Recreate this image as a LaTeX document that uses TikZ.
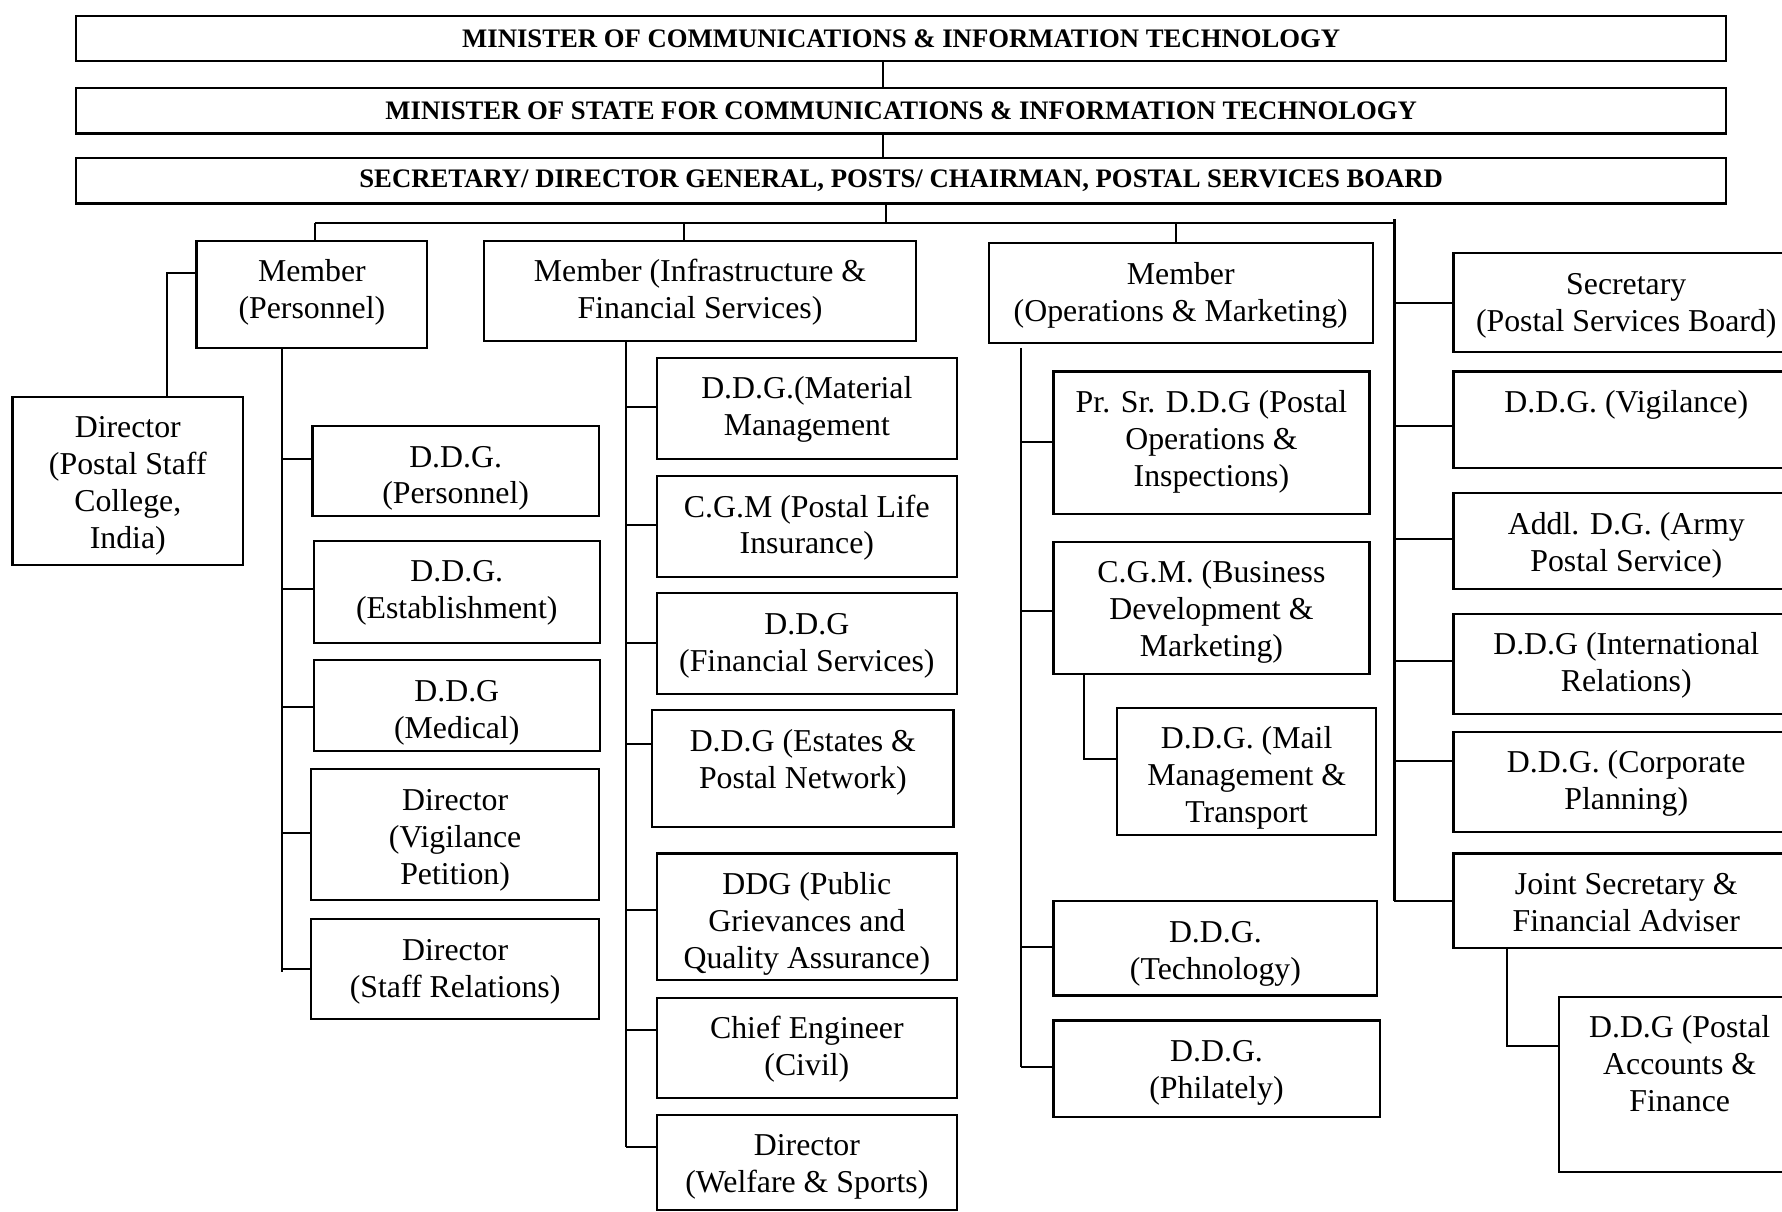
\documentclass[tikz,border=0pt]{standalone}
\usepackage{fontspec}
\setmainfont{Liberation Serif}
\tikzset{
  obx/.style={draw, line width=0.95pt, inner sep=0pt, font=\fontsize{14}{16.25}\selectfont},
  tbx/.style={draw, line width=0.95pt, inner sep=0pt, minimum width=726pt, minimum height=20pt,
              font=\fontsize{11.75}{14}\selectfont\bfseries},
  conn/.style={line width=0.9pt},
}
\newcommand\obox[6]{%
  \node[obx, anchor=north west] (#1) at (#2,#3)
    {\parbox[c][\dimexpr(#5pt-#3pt)/2\relax][t]{\dimexpr(#4pt-#2pt)/2\relax}{\centering\rule{0pt}{18pt}#6\par}};}
\newcommand\brn[3]{\coordinate (#1) at (#2); \draw[conn] (#1) -- (#3.west |- #1);}
\begin{document}
\begin{tikzpicture}[x=0.5pt,y=-0.5pt]
\useasboundingbox (0,0) rectangle (1568,1066);
% top boxes
\node[tbx] (t1) at (793,34) {MINISTER OF COMMUNICATIONS \& INFORMATION TECHNOLOGY};
\node[tbx] (t2) at (793,97.5) {MINISTER OF STATE FOR COMMUNICATIONS \& INFORMATION TECHNOLOGY};
\node[tbx] (t3) at (793,159) {SECRETARY/ DIRECTOR GENERAL, POSTS/ CHAIRMAN, POSTAL SERVICES BOARD};
\coordinate (cx) at (777,0);
\draw[conn] (t1.south -| cx) -- (t2.north -| cx);
\draw[conn] (t2.south -| cx) -- (t3.north -| cx);
\coordinate (bx) at (780,196);
\draw[conn] (t3.south -| bx) -- (bx);
\coordinate (bA) at (277,196); \coordinate (bB) at (602,196);
\coordinate (bC) at (1035,196); \coordinate (bD) at (1227,196);
\draw[conn, line width=1.1pt] (bA) -- (bD);
% members
\obox{mp}{172}{211}{375}{305}{Member\\(Personnel)}
\obox{mi}{425}{211}{805}{299}{Member (Infrastructure \&\\Financial Services)}
\obox{mo}{869}{213}{1207}{301}{Member\\(Operations \& Marketing)}
\draw[conn] (bA) -- (mp.north -| bA);
\draw[conn] (bB) -- (mi.north -| bB);
\draw[conn] (bC) -- (mo.north -| bC);
% left column
\obox{dpsc}{10}{348}{213}{496}{Director\\(Postal Staff\\College,\\India)}
\coordinate (pc) at (147,240);
\draw[conn] (mp.west |- pc) -- (pc) -- (dpsc.north -| pc);
\obox{dp}{274}{374}{526}{453}{D.D.G.\\(Personnel)}
\obox{de}{275}{475}{527}{565}{D.D.G.\\(Establishment)}
\obox{dm}{275}{580}{527}{660}{D.D.G\\(Medical)}
\obox{dv}{273}{676}{526}{791}{Director\\(Vigilance\\Petition)}
\obox{ds}{273}{808}{526}{896}{Director\\(Staff Relations)}
\coordinate (Ls) at (248,855);
\draw[conn] (mp.south -| Ls) -- (Ls);
\brn{L1}{248,404}{dp}
\brn{L2}{248,518}{de}
\brn{L3}{248,622}{dm}
\brn{L4}{248,733}{dv}
\brn{L5}{248,853}{ds}
% middle column
\obox{mm}{577}{314}{841}{403}{D.D.G.(Material\\Management}
\obox{cp}{577}{418}{841}{507}{C.G.M (Postal Life\\Insurance)}
\obox{fs}{577}{521}{841}{610}{D.D.G\\(Financial Services)}
\obox{es}{573}{624}{838}{727}{D.D.G (Estates \&\\Postal Network)}
\obox{pg}{577}{750}{841}{861}{DDG (Public\\Grievances and\\Quality Assurance)}
\obox{ce}{577}{877}{841}{965}{Chief Engineer\\(Civil)}
\obox{dw}{577}{980}{841}{1064}{Director\\(Welfare \& Sports)}
\coordinate (Ms) at (551,1009);
\draw[conn] (mi.south -| Ms) -- (Ms);
\brn{M1}{551,358}{mm}
\brn{M2}{551,462}{cp}
\brn{M3}{551,566}{fs}
\brn{M4}{551,655}{es}
\brn{M5}{551,801}{pg}
\brn{M6}{551,906}{ce}
\brn{M7}{551,1009}{dw}
% operations column
\obox{ps}{926}{326}{1204}{451}{Pr. Sr. D.D.G (Postal\\Operations \&\\Inspections)}
\obox{cg}{926}{476}{1204}{592}{C.G.M. (Business\\Development \&\\Marketing)}
\obox{ml}{982}{622}{1210}{734}{D.D.G. (Mail\\Management \&\\Transport}
\obox{te}{926}{792}{1211}{875}{D.D.G.\\(Technology)}
\obox{ph}{926}{897}{1213}{982}{D.D.G.\\(Philately)}
\coordinate (Ot) at (898,306); \coordinate (Ob) at (898,939);
\draw[conn] (Ot) -- (Ob);
\brn{O1}{898,389}{ps}
\brn{O2}{898,538}{cg}
\brn{O3}{898,833}{te}
\brn{O4}{898,939}{ph}
\coordinate (oc) at (954,668);
\draw[conn] (cg.south -| oc) -- (oc) -- (ml.west |- oc);
% right column
\obox{se}{1278}{222}{1582}{309}{Secretary\\(Postal Services Board)}
\obox{vg}{1278}{326}{1582}{411}{D.D.G. (Vigilance)}
\obox{ad}{1278}{433}{1582}{517}{Addl. D.G. (Army\\Postal Service)}
\obox{ir}{1278}{539}{1582}{627}{D.D.G (International\\Relations)}
\obox{cpl}{1278}{643}{1582}{731}{D.D.G. (Corporate\\Planning)}
\obox{js}{1278}{750}{1582}{833}{Joint Secretary \&\\Financial Adviser}
\obox{pa}{1371}{876}{1583}{1030}{D.D.G (Postal\\Accounts \&\\Finance}
\coordinate (Rt) at (1227,193); \coordinate (Rb) at (1227,793);
\draw[conn] (Rt) -- (Rb);
\brn{R1}{1227,267}{se}
\brn{R2}{1227,375}{vg}
\brn{R3}{1227,474}{ad}
\brn{R4}{1227,582}{ir}
\brn{R5}{1227,670}{cpl}
\brn{R6}{1227,793}{js}
\coordinate (jc) at (1326,920);
\draw[conn] (js.south -| jc) -- (jc) -- (pa.west |- jc);
\end{tikzpicture}
\end{document}
